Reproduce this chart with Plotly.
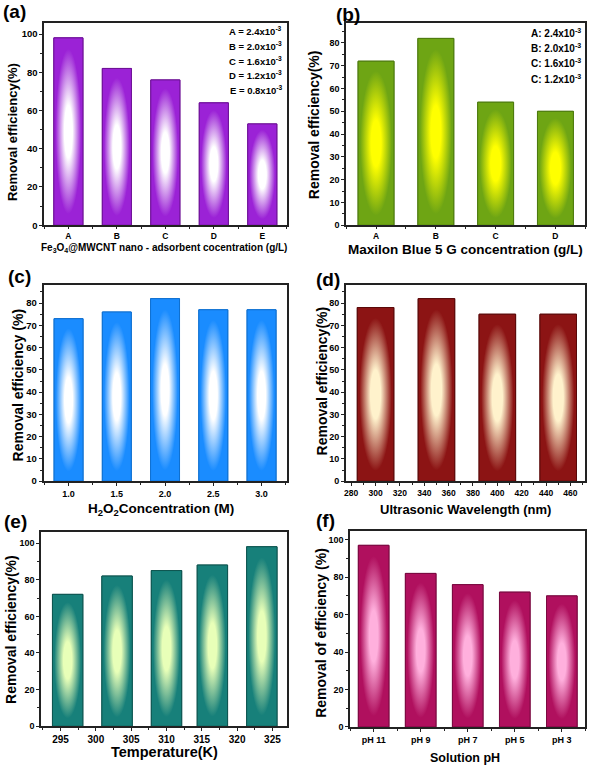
import plotly.graph_objects as go

W, H = 592, 773
FONT = "Liberation Sans"

# ---------------- data ----------------
a_cats = ["A", "B", "C", "D", "E"]
a_vals = [98, 82, 76, 64, 53]
a_notes = ["A = 2.4x10<sup>-3</sup>", "B = 2.0x10<sup>-3</sup>", "C = 1.6x10<sup>-3</sup>",
           "D = 1.2x10<sup>-3</sup>", "E = 0.8x10<sup>-3</sup>"]

b_cats = ["A", "B", "C", "D"]
b_vals = [72, 82, 54, 50]
b_notes = ["A: 2.4x10<sup>-3</sup>", "B: 2.0x10<sup>-3</sup>", "C: 1.6x10<sup>-3</sup>",
           "C: 1.2x10<sup>-3</sup>"]

c_conc = [1.0, 1.5, 2.0, 2.5, 3.0]
c_vals = [73, 76, 82, 77, 77]

d_wave = [300, 350, 400, 450]
d_vals = [78, 82, 75, 75]

e_temp = [296, 303, 310, 316.5, 323.5]
e_vals = [72, 82, 85, 88, 98]
e_ticks = [295, 300, 305, 310, 315, 320, 325]

f_cats = ["pH 11", "pH 9", "pH 7", "pH 5", "pH 3"]
f_vals = [97, 82, 76, 72, 70]


def xd(l, r):
    return [l / W, r / W]


def yd(t, b):
    return [1 - b / H, 1 - t / H]


panels = [
    dict(n="", x=list(range(len(a_cats))), y=a_vals, w=0.6,
         edge="#9b22d6", center="#ffffff", line="#6e1296",
         dx=xd(42.3, 285.5), dy=yd(23.3, 226.7), xr=[-0.5, 4.5], yr=[0, 105.7],
         xt=dict(tickmode="array", tickvals=list(range(len(a_cats))), ticktext=a_cats),
         xminor=dict(tick0=-0.5, dtick=0.5), yt=dict(tick0=0, dtick=20), yminor=10,
         xfs=8.5, yfs=9.5, xtl=2),
    dict(n="2", x=list(range(len(b_cats))), y=b_vals, w=0.6,
         edge="#6ea514", center="#ffff00", line="#4d7a0f",
         dx=xd(345.3, 585.3), dy=yd(23.3, 226.7), xr=[-0.5, 3.5], yr=[0, 88.7],
         xt=dict(tickmode="array", tickvals=list(range(len(b_cats))), ticktext=b_cats),
         xminor=dict(tick0=-0.5, dtick=0.5), yt=dict(tick0=0, dtick=10), yminor=5,
         xfs=8.5, yfs=9, xtl=2),
    dict(n="3", x=c_conc, y=c_vals, w=0.3,
         edge="#1a8cff", center="#ffffff", line="#1070d0",
         dx=xd(41.7, 285.5), dy=yd(286.7, 484.3), xr=[0.741, 3.259], yr=[0, 88.2],
         xt=dict(tickmode="array", tickvals=c_conc, ticktext=[f"{v:.1f}" for v in c_conc]),
         xminor=dict(tick0=0.75, dtick=0.25), yt=dict(tick0=0, dtick=10), yminor=5,
         xfs=9, yfs=9.5, xtl=3),
    dict(n="4", x=d_wave, y=d_vals, w=30,
         edge="#8c1414", center="#fff2cc", line="#5a0a0a",
         dx=xd(345, 585), dy=yd(286.7, 484.3), xr=[275.6, 472], yr=[0, 88.2],
         xt=dict(tick0=280, dtick=20),
         xminor=dict(tick0=280, dtick=10), yt=dict(tick0=0, dtick=10), yminor=5,
         xfs=8.5, yfs=9, xtl=3),
    dict(n="5", x=e_temp, y=e_vals, w=4.3,
         edge="#17807a", center="#e8ffb8", line="#0f5550",
         dx=xd(39.3, 285.5), dy=yd(535, 731), xr=[292.25, 327], yr=[0, 106.3],
         xt=dict(tickmode="array", tickvals=e_ticks, ticktext=[str(t) for t in e_ticks]),
         xminor=dict(tick0=292.5, dtick=2.5), yt=dict(tick0=0, dtick=20), yminor=10,
         xfs=10, yfs=9, xtl=3),
    dict(n="6", x=list(range(len(f_cats))), y=f_vals, w=0.65,
         edge="#b0105e", center="#ffb0dd", line="#7a0a40",
         dx=xd(349.3, 585.3), dy=yd(534, 731.7), xr=[-0.5, 4.5], yr=[0, 104.9],
         xt=dict(tickmode="array", tickvals=list(range(len(f_cats))), ticktext=f_cats),
         xminor=dict(tick0=-0.5, dtick=0.5), yt=dict(tick0=0, dtick=20), yminor=10,
         xfs=9, yfs=9, xtl=3),
]

fig = go.Figure()
layout = dict(
    width=W, height=H, margin=dict(l=0, r=0, t=0, b=0),
    paper_bgcolor="white", plot_bgcolor="white", showlegend=False,
    barmode="overlay",
)

for p in panels:
    n = p["n"]
    xa, ya = "x" + n, "y" + n
    # base bars (outline)
    fig.add_trace(go.Bar(
        x=p["x"], y=p["y"], width=p["w"], xaxis=xa, yaxis=ya,
        marker=dict(color=p["edge"], line=dict(color=p["line"], width=1)),
        hoverinfo="x+y",
    ))
    # gradient overlays, one per bar, derived from the data
    for xv, yv in zip(p["x"], p["y"]):
        hw = p["w"] / 2
        fig.add_trace(go.Scatter(
            x=[xv - hw, xv + hw, xv + hw, xv - hw, xv - hw],
            y=[0, 0, yv, yv, 0],
            xaxis=xa, yaxis=ya, mode="lines", fill="toself",
            line=dict(color=p["line"], width=1),
            fillgradient=dict(type="radial",
                              colorscale=[[0, p["center"]], [0.28, p["center"]],
                                          [0.88, p["edge"]], [1, p["edge"]]]),
            hoverinfo="skip",
        ))
    ax_common = dict(showline=True, linecolor="#222", linewidth=1.5, mirror=True,
                     ticks="outside", tickwidth=1.2, tickcolor="#222",
                     showgrid=False, zeroline=False)
    xkey = "xaxis" + n
    ykey = "yaxis" + n
    layout[xkey] = dict(
        domain=p["dx"], range=p["xr"], anchor=ya, ticklen=p["xtl"],
        tickfont=dict(family=FONT, size=p["xfs"], color="black", weight="bold"),
        minor=dict(ticks="outside", ticklen=2, tickwidth=1, tickcolor="#222", **p["xminor"]),
        **p["xt"], **ax_common)
    layout[ykey] = dict(
        domain=p["dy"], range=p["yr"], anchor=xa, ticklen=3,
        tickfont=dict(family=FONT, size=p["yfs"], color="black", weight="bold"),
        tickmode="linear", **p["yt"],
        minor=dict(ticks="outside", ticklen=2, tickwidth=1, tickcolor="#222", dtick=p["yminor"]),
        **ax_common)

fig.update_layout(**layout)

annotations = []


def add_text(text, x, y, size, angle=0, xanchor="center", yanchor="middle"):
    annotations.append(dict(
        text=text, x=x / W, y=1 - y / H, xref="paper", yref="paper",
        showarrow=False, textangle=angle, xanchor=xanchor, yanchor=yanchor,
        font=dict(family=FONT, size=size, color="black", weight="bold")))


# panel letters
for lab, x, y in [("(a)", 13, 12), ("(b)", 347, 15), ("(c)", 18, 278),
                  ("(d)", 327, 281), ("(e)", 14, 525), ("(f)", 325, 524)]:
    add_text(lab, x, y, 19)

# y titles
add_text("Removal efficiency(%)", 10, 133, 13, -90)
add_text("Removal efficiency(%)", 313, 125, 14, -90)
add_text("Removal efficiency (%)", 17, 387, 14, -90)
add_text("Removal efficiency(%)", 321, 383, 14, -90)
add_text("Removal efficiency(%)", 9, 633, 14, -90)
add_text("Removal of efficiency (%)", 320, 637, 14, -90)

# x titles
add_text("Fe<sub>3</sub>O<sub>4</sub>@MWCNT nano - adsorbent cocentration (g/L)", 163, 250, 10)
add_text("Maxilon Blue 5 G concentration (g/L)", 465, 251, 13.5)
add_text("H<sub>2</sub>O<sub>2</sub>Concentration (M)", 160, 512.5, 13.5)
add_text("Ultrasonic Wavelength (nm)", 465, 513, 13)
add_text("Temperature(K)", 163, 757, 14.5)
add_text("Solution pH", 465, 763, 12.5)

# notes
for i, t in enumerate(a_notes):
    add_text(t, 283, 31.7 + i * 14.7, 9.5, xanchor="right")
for i, t in enumerate(b_notes):
    add_text(t, 582.5, 33.3 + i * 15.3, 10, xanchor="right")

fig.update_layout(annotations=annotations)
fig.write_html("out.html", config={"displayModeBar": False},
               post_script="document.body.style.margin='0';")
